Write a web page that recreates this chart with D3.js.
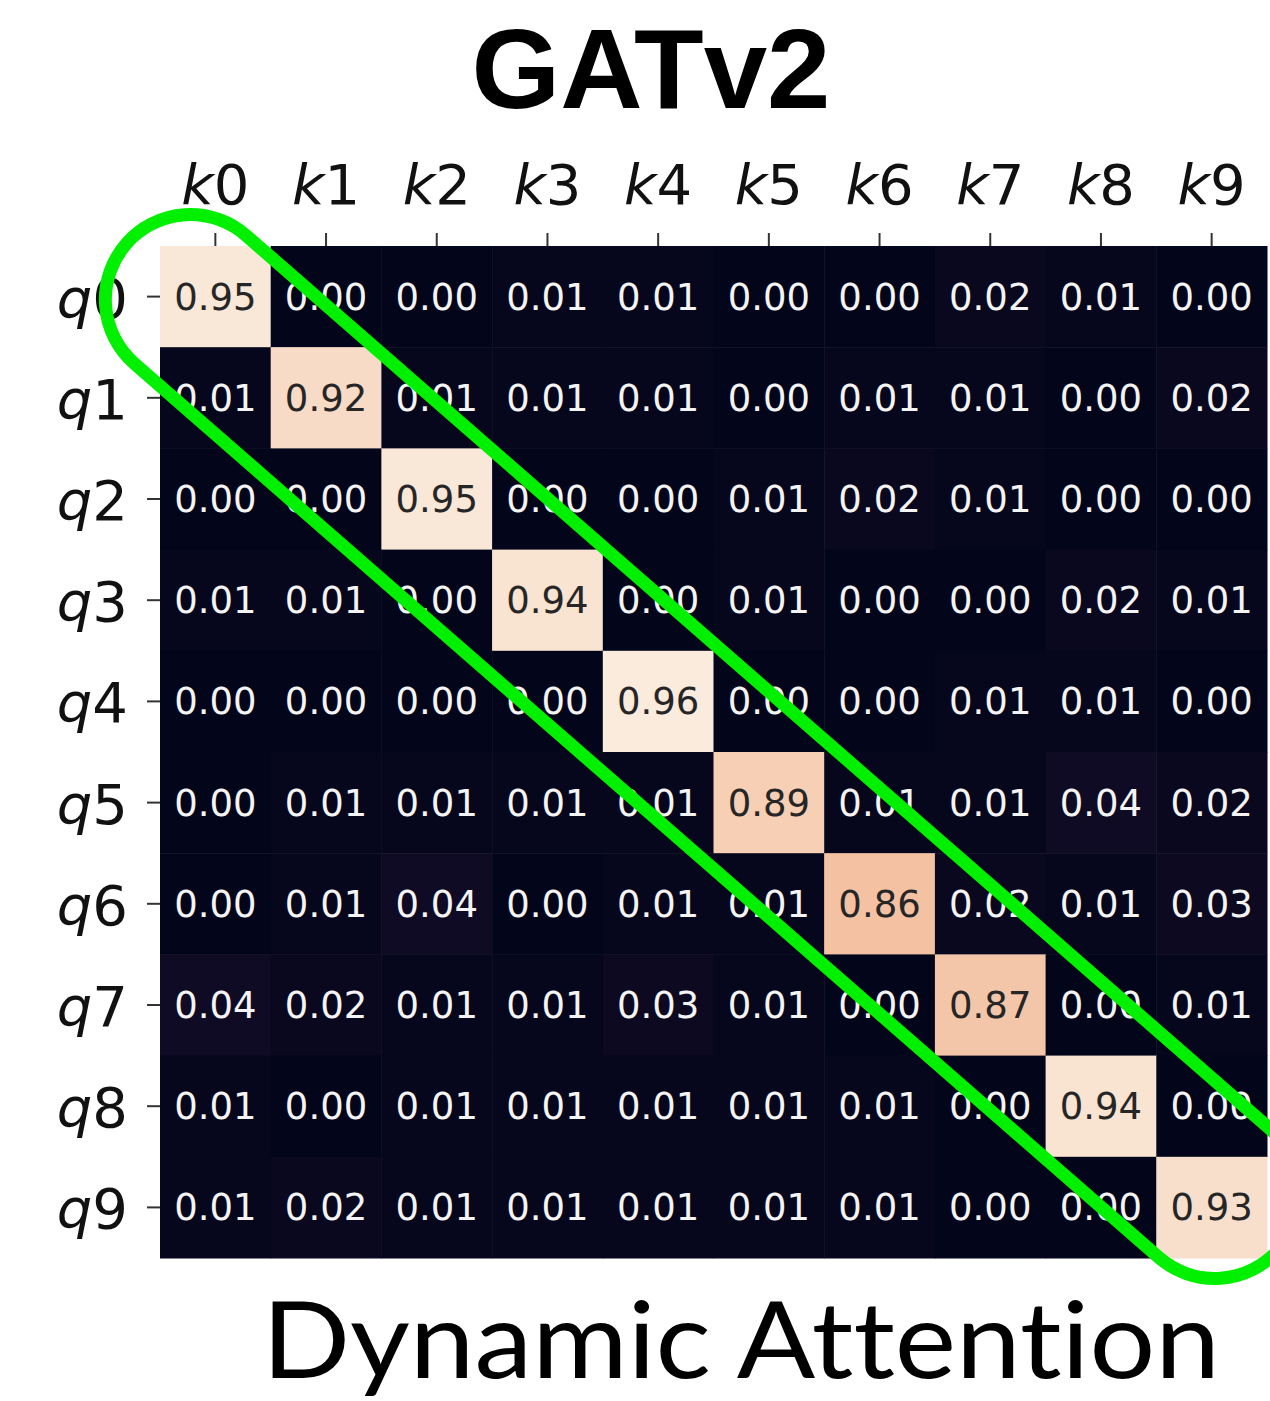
<!DOCTYPE html>
<html>
<head>
<meta charset="utf-8">
<script src="https://cdn.jsdelivr.net/npm/d3@7"></script>
<style>
  html, body { margin: 0; padding: 0; background: #fff; }
  svg { display: block; }
</style>
</head>
<body>
<div class="graph"></div>
<script>
// 데이터
const keys = ["0", "1", "2", "3", "4", "5", "6", "7", "8", "9"]; // k0..k9
const queries = ["0", "1", "2", "3", "4", "5", "6", "7", "8", "9"]; // q0..q9

const q0 = [0.95, 0.00, 0.00, 0.01, 0.01, 0.00, 0.00, 0.02, 0.01, 0.00];
const q1 = [0.01, 0.92, 0.01, 0.01, 0.01, 0.00, 0.01, 0.01, 0.00, 0.02];
const q2 = [0.00, 0.00, 0.95, 0.00, 0.00, 0.01, 0.02, 0.01, 0.00, 0.00];
const q3 = [0.01, 0.01, 0.00, 0.94, 0.00, 0.01, 0.00, 0.00, 0.02, 0.01];
const q4 = [0.00, 0.00, 0.00, 0.00, 0.96, 0.00, 0.00, 0.01, 0.01, 0.00];
const q5 = [0.00, 0.01, 0.01, 0.01, 0.01, 0.89, 0.01, 0.01, 0.04, 0.02];
const q6 = [0.00, 0.01, 0.04, 0.00, 0.01, 0.01, 0.86, 0.02, 0.01, 0.03];
const q7 = [0.04, 0.02, 0.01, 0.01, 0.03, 0.01, 0.00, 0.87, 0.00, 0.01];
const q8 = [0.01, 0.00, 0.01, 0.01, 0.01, 0.01, 0.01, 0.00, 0.94, 0.00];
const q9 = [0.01, 0.02, 0.01, 0.01, 0.01, 0.01, 0.01, 0.00, 0.00, 0.93];
const rows = [q0, q1, q2, q3, q4, q5, q6, q7, q8, q9];

const title = "GATv2";
const caption = "Dynamic Attention";

// rocket 컬러맵 근사
const rocketStops = ["#03051a", "#221331", "#451c47", "#6a1f56", "#921c5b",
  "#b91657", "#dd2c45", "#f06043", "#f59c74", "#f4c4a5", "#faebdd"];

/* 공통 옵션 */
const width = 1270;
const height = 1401;
const [ml, mt, mr, mb] = [160, 246, 3, 143]; // 히트맵 여백

const cells = rows.flatMap((r, i) => r.map((v, j) => ({ q: queries[i], k: keys[j], v })));

const svg = d3.select(".graph")
  .append("svg")
  .attr("width", width)
  .attr("height", height);

const x = d3.scaleBand().domain(keys).range([ml, width - mr]);
const y = d3.scaleBand().domain(queries).range([mt, height - mb]);

const color = d3.scaleSequential(d3.piecewise(d3.interpolateRgb, rocketStops))
  .domain([d3.min(cells, d => d.v), d3.max(cells, d => d.v)]);

// 셀
svg.append("g")
  .selectAll("rect")
  .data(cells)
  .join("rect")
  .attr("x", d => x(d.k))
  .attr("y", d => y(d.q))
  .attr("width", x.bandwidth() + 0.5)
  .attr("height", y.bandwidth() + 0.5)
  .attr("fill", d => color(d.v));

// 셀 값 표시
svg.append("g")
  .selectAll("text")
  .data(cells)
  .join("text")
  .attr("x", d => x(d.k) + x.bandwidth() / 2)
  .attr("y", d => y(d.q) + y.bandwidth() / 2 + 13)
  .attr("text-anchor", "middle")
  .attr("font-family", "DejaVu Sans")
  .attr("font-size", 37)
  .attr("fill", d => d3.hsl(color(d.v)).l > 0.55 ? "#262626" : "#f4f4f4")
  .text(d => d.v.toFixed(2));

// 축 (위쪽 k, 왼쪽 q)
const xAxisG = svg.append("g")
  .attr("transform", `translate(0, ${mt})`)
  .call(d3.axisTop(x).tickSize(13).tickFormat(""));
const yAxisG = svg.append("g")
  .attr("transform", `translate(${ml}, 0)`)
  .call(d3.axisLeft(y).tickSize(13).tickFormat(""));
[xAxisG, yAxisG].forEach(g => {
  g.select(".domain").remove();
  g.selectAll(".tick line").attr("stroke", "#333").attr("stroke-width", 2);
});

// 눈금 라벨: 기울임 문자 + 숫자
const xl = svg.append("g").selectAll("text")
  .data(keys).join("text")
  .attr("x", d => x(d) + x.bandwidth() / 2)
  .attr("y", mt - 42)
  .attr("text-anchor", "middle")
  .attr("font-family", "DejaVu Sans")
  .attr("font-size", 56)
  .attr("fill", "#111");
xl.append("tspan").attr("font-style", "italic").text("k");
xl.append("tspan").text(d => d);

const yl = svg.append("g").selectAll("text")
  .data(queries).join("text")
  .attr("x", 128)
  .attr("y", d => y(d) + y.bandwidth() / 2 + 21)
  .attr("text-anchor", "end")
  .attr("font-family", "DejaVu Sans")
  .attr("font-size", 56)
  .attr("fill", "#111");
yl.append("tspan").attr("font-style", "italic").text("q");
yl.append("tspan").text(d => d);

// 대각선 강조 (캡슐 모양)
const ax = x(keys[0]) + x.bandwidth() / 2 - 25, ay = y(queries[0]) + y.bandwidth() / 2 + 3;
const bx = x(keys[9]) + x.bandwidth() / 2 + 3, by = y(queries[9]) + y.bandwidth() / 2 - 14;
const r = 85;
const ang = Math.atan2(by - ay, bx - ax);
const nx = Math.sin(ang), ny = -Math.cos(ang);
const p = d3.path();
p.moveTo(ax + r * nx, ay + r * ny);
p.lineTo(bx + r * nx, by + r * ny);
p.arc(bx, by, r, ang - Math.PI / 2, ang + Math.PI / 2);
p.lineTo(ax - r * nx, ay - r * ny);
p.arc(ax, ay, r, ang + Math.PI / 2, ang + 3 * Math.PI / 2);
p.closePath();
svg.append("path")
  .attr("d", p.toString())
  .attr("fill", "none")
  .attr("stroke", "#00f000")
  .attr("stroke-width", 13);

// 제목
svg.append("text")
  .attr("x", 651)
  .attr("y", 108)
  .attr("text-anchor", "middle")
  .attr("font-family", "Liberation Sans, Arial, sans-serif")
  .attr("font-weight", "bold")
  .attr("font-size", 114)
  .attr("fill", "#000")
  .text(title);

// 하단 설명
svg.append("text")
  .attr("x", 262)
  .attr("y", 1378)
  .attr("font-family", "Lato, sans-serif")
  .attr("font-size", 106)
  .style("font-variant-ligatures", "none")
  .attr("textLength", 958)
  .attr("lengthAdjust", "spacingAndGlyphs")
  .attr("fill", "#000")
  .text(caption);
</script>
</body>
</html>
